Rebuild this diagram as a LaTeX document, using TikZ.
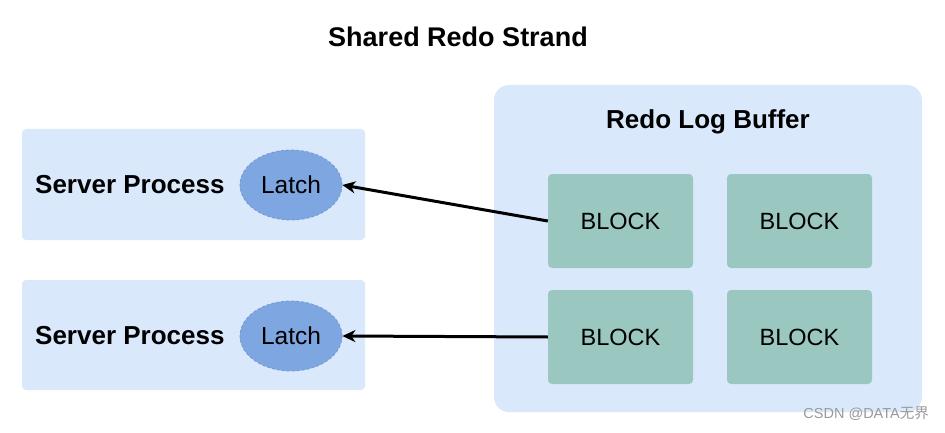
\documentclass[tikz,border=0pt]{standalone}
\usepackage{fontspec}
\setmainfont{Liberation Sans}
\newfontfamily\cjk{Noto Sans CJK SC}
\usetikzlibrary{arrows.meta,shapes.geometric}
\definecolor{panel}{HTML}{DAE8FC}
\definecolor{blockc}{HTML}{9AC7BF}
\definecolor{latchc}{HTML}{7EA6E0}
\definecolor{wm}{HTML}{9A9A9A}
\tikzset{
  panelbox/.style={fill=panel, draw=none, rounded corners=4pt},
  blockbox/.style={fill=blockc, draw=none, rounded corners=4pt, minimum width=145pt, minimum height=94pt, font=\fontsize{23.5}{27}\selectfont},
  latchnode/.style={ellipse, fill=latchc, draw=latchc!92!black, dashed, dash pattern=on 3pt off 2pt, line width=0.8pt, minimum width=102pt, minimum height=70pt, inner sep=0pt, font=\fontsize{24.5}{28}\selectfont},
  boldlabel/.style={font=\fontsize{26}{30}\selectfont\bfseries},
  conn/.style={line width=3pt, -{Stealth[length=13pt,width=12pt,inset=4pt]}}
}
\begin{document}
\begin{tikzpicture}[x=1pt,y=-1pt]
\useasboundingbox (0,0) rectangle (945,433);
\fill[white] (0,0) rectangle (945,433);
% title
\node[font=\fontsize{27}{30}\selectfont\bfseries] (title) at (458,37) {Shared Redo Strand};
% redo log buffer
\node[fill=panel, rounded corners=15pt, minimum width=428pt, minimum height=327pt, inner sep=0pt] (buf) at (708,248.5) {};
\node[boldlabel] (buflabel) at (708,122) {Redo Log Buffer};
\node[blockbox] (b1) at (620.5,221) {BLOCK};
\node[blockbox] (b2) at (799.5,221) {BLOCK};
\node[blockbox] (b3) at (620.5,337) {BLOCK};
\node[blockbox] (b4) at (799.5,337) {BLOCK};
% server processes
\node[panelbox, minimum width=343pt, minimum height=111pt, inner sep=0pt] (sp1) at (193.5,184.5) {};
\node[panelbox, minimum width=343pt, minimum height=110pt, inner sep=0pt] (sp2) at (193.5,335) {};
\node[boldlabel, anchor=west, inner sep=0pt] (sp1l) at (35,185) {Server Process};
\node[boldlabel, anchor=west, inner sep=0pt] (sp2l) at (35,336) {Server Process};
\node[latchnode] (l1) at (291,185) {Latch};
\node[latchnode] (l2) at (291,336) {Latch};
% connectors
\draw[conn] (b1.west) -- (l1.east);
\draw[conn] (b3.west) -- (l2.east);
% watermark
\node[text=wm, font=\fontsize{14.5}{17}\selectfont, anchor=east, inner sep=0pt] (wmark) at (929,414) {CSDN @DATA{\cjk 无界}};
\end{tikzpicture}
\end{document}
